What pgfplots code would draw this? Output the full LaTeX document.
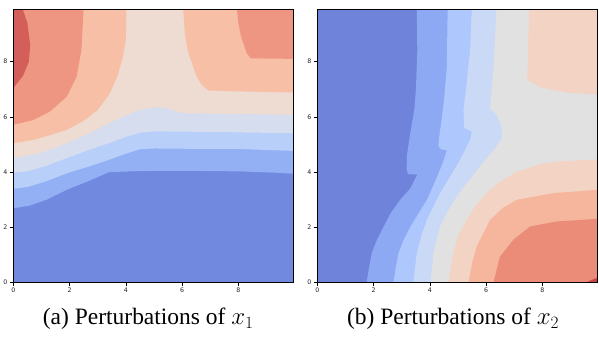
\documentclass[border=0pt]{standalone}
\usepackage{pgfplots}
\pgfplotsset{compat=1.18}
\usepackage{fontspec}
\setmainfont{Liberation Serif}
\newfontfamily\capfont{Liberation Serif}
\newfontfamily\tickfont{DejaVu Sans}

\definecolor{a1}{HTML}{D45F5A}
\definecolor{a2}{HTML}{EF9682}
\definecolor{a3}{HTML}{F6BFA6}
\definecolor{a4}{HTML}{EEDBD2}
\definecolor{a5}{HTML}{D5DDEE}
\definecolor{a6}{HTML}{B7CFF9}
\definecolor{a7}{HTML}{94B0F5}
\definecolor{a8}{HTML}{7189DE}

\definecolor{b0}{HTML}{6F83DA}
\definecolor{b1}{HTML}{8EA9F3}
\definecolor{b2}{HTML}{AEC7FC}
\definecolor{b3}{HTML}{CADAF6}
\definecolor{b4}{HTML}{E1E1E1}
\definecolor{b5}{HTML}{F3D4C4}
\definecolor{b6}{HTML}{F5B69D}
\definecolor{b7}{HTML}{EA8C77}
\definecolor{b8}{HTML}{C6474A}

\pgfplotsset{
  cont/.style={
    scale only axis,
    width=280pt, height=273pt,
    xmin=0, xmax=9.95, ymin=0, ymax=9.9,
    xtick={0,2,4,6,8}, ytick={0,2,4,6,8},
    tick align=outside,
    xtick pos=bottom, ytick pos=left,
    major tick length=3.5pt,
    every tick/.style={black, line width=0.5pt},
    axis line style={black, line width=0.9pt},
    tick label style={font=\tickfont\fontsize{6.3}{7}\selectfont, color=black!85},
    /pgf/number format/assume math mode=true,
    xticklabel style={yshift=1pt},
    yticklabel style={xshift=1pt},
    axis on top,
  },
}

\begin{document}
\begin{tikzpicture}
% ---------------- (a) ----------------
\begin{axis}[cont, at={(0pt,0pt)}, anchor=south west]
\addplot[fill=a8, draw=none] coordinates {(0,0) (10,0) (10,10) (0,10)} -- cycle;
\addplot[fill=a7, draw=none] coordinates {(0,2.68) (0.6,2.78) (1.2,3.0) (1.9,3.35) (2.7,3.68) (3.4,3.99) (4.5,4.03) (6,4.04) (8,4.02) (9.3,3.97) (10,3.93) (10,10) (0,10)} -- cycle;
\addplot[fill=a6, draw=none] coordinates {(0,3.39) (0.5,3.45) (1.2,3.67) (1.9,3.95) (2.7,4.2) (3.4,4.44) (4.0,4.66) (4.5,4.82) (5,4.85) (6,4.84) (8,4.83) (10,4.76) (10,10) (0,10)} -- cycle;
\addplot[fill=a5, draw=none] coordinates {(0,3.97) (0.5,4.02) (1.2,4.23) (1.9,4.5) (2.7,4.8) (3.4,5.04) (4,5.27) (4.5,5.42) (5,5.47) (7,5.45) (10,5.40) (10,10) (0,10)} -- cycle;
\addplot[fill=a4, draw=none] coordinates {(0,4.49) (1,4.7) (1.9,5.04) (2.7,5.4) (3.4,5.77) (4,6.05) (4.5,6.25) (5,6.35) (5.5,6.31) (6,6.13) (8,6.1) (10,6.07) (10,10) (0,10)} -- cycle;
\addplot[fill=a3, draw=none] coordinates {(0,5.04) (0.7,5.16) (1.3,5.33) (1.9,5.53) (2.5,5.85) (3,6.25) (3.4,6.8) (3.7,7.46) (3.9,8.2) (4.0,8.8) (4.02,10) (0,10)} -- cycle;
\addplot[fill=a3, draw=none] coordinates {(6.03,10) (6.1,9.0) (6.2,8.4) (6.5,7.5) (6.7,7.15) (6.95,6.95) (8,6.92) (10,6.88) (10,10)} -- cycle;
\addplot[fill=a2, draw=none] coordinates {(0,5.71) (0.7,5.88) (1.3,6.19) (1.9,6.73) (2.25,7.46) (2.42,8.43) (2.5,10) (0,10)} -- cycle;
\addplot[fill=a2, draw=none] coordinates {(7.94,10) (8.0,9.4) (8.1,8.9) (8.3,8.3) (8.45,8.12) (10,8.1) (10,10)} -- cycle;
\addplot[fill=a1, draw=none] coordinates {(0,10) (0.3,10) (0.5,9.4) (0.6,8.6) (0.55,8.0) (0.35,7.5) (0,7.04)} -- cycle;
\end{axis}
% ---------------- (b) ----------------
\begin{axis}[cont, at={(304.3pt,0pt)}, anchor=south west]
\addplot[fill=b0, draw=none] coordinates {(0,0) (10,0) (10,10) (0,10)} -- cycle;
\addplot[fill=b1, draw=none] coordinates {(3.53,10) (3.55,8.4) (3.5,7) (3.45,6.3) (3.3,5.4) (3.18,4.6) (3.17,4.1) (3.22,3.92) (3.55,3.9) (3.3,3.4) (2.95,3.0) (2.6,2.5) (2.35,2.0) (2.1,1.5) (1.93,1.05) (1.83,0.5) (1.75,0) (10,0) (10,10)} -- cycle;
\addplot[fill=b2, draw=none] coordinates {(4.63,10) (4.6,7.8) (4.5,6.6) (4.4,5.8) (4.32,5.2) (4.3,4.95) (4.38,4.82) (4.6,4.78) (4.45,4.3) (4.2,3.7) (3.9,3.0) (3.6,2.5) (3.3,2.0) (3.05,1.5) (2.88,1.05) (2.78,0.5) (2.7,0) (10,0) (10,10)} -- cycle;
\addplot[fill=b3, draw=none] coordinates {(5.49,10) (5.43,8.43) (5.28,6.98) (5.19,6.25) (5.22,5.59) (5.49,5.47) (5.43,5.16) (5.07,4.44) (4.7,3.8) (4.36,3.23) (4.1,2.7) (3.89,2.26) (3.7,1.7) (3.53,1.05) (3.41,0) (10,0) (10,10)} -- cycle;
\addplot[fill=b4, draw=none] coordinates {(6.37,10) (6.26,7.82) (6.14,6.31) (6.37,6.07) (6.55,5.65) (6.55,5.22) (6.37,4.92) (5.78,4.2) (4.95,3.11) (4.6,2.5) (4.36,2.02) (4.12,1.05) (4.03,0) (10,0) (10,10)} -- cycle;
\addplot[fill=b5, draw=none] coordinates {(4.66,0) (4.83,1.05) (5.0,1.7) (5.31,2.26) (5.6,2.75) (6.02,3.23) (6.5,3.65) (7.09,4.01) (8,4.3) (8.63,4.38) (10,4.46) (10,0)} -- cycle;
\addplot[fill=b5, draw=none] coordinates {(7.54,10) (7.5,9.03) (7.46,7.34) (7.91,7.07) (8.86,6.88) (10,6.8) (10,10)} -- cycle;
\addplot[fill=b6, draw=none] coordinates {(5.37,0) (5.5,0.7) (5.66,1.29) (6.14,2.26) (6.6,2.7) (7.09,2.99) (8.39,3.23) (10,3.35) (10,0)} -- cycle;
\addplot[fill=b7, draw=none] coordinates {(6.26,0) (6.49,0.93) (6.97,1.54) (7.56,2.02) (8.5,2.2) (10,2.3) (10,0)} -- cycle;
\addplot[fill=b8, draw=none] coordinates {(9.57,0) (10,0.18) (10,0)} -- cycle;
\end{axis}
\node[anchor=base, font=\capfont\fontsize{23.5}{28}\selectfont] at (135pt,-42.7pt) {(a) Perturbations of $x_1$};
\node[anchor=base, font=\capfont\fontsize{23.5}{28}\selectfont] at (440pt,-42.7pt) {(b) Perturbations of $x_2$};
\path[use as bounding box] (-13pt,-54.7pt) rectangle (586pt,282.3pt);
\end{tikzpicture}
\end{document}
